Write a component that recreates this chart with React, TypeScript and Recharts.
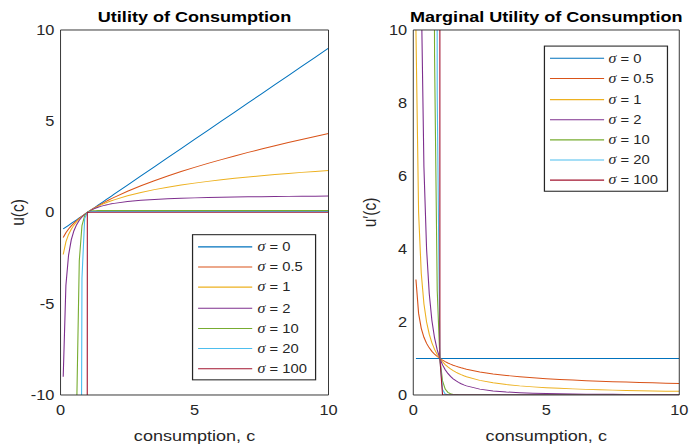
import React from 'react';
import { LineChart, Line, XAxis, YAxis, Legend } from 'recharts';

// consumption grid (x values)
const consumption = [
  0.1, 0.2, 0.3, 0.4, 0.5, 0.6, 0.7, 0.8, 0.9, 1.0, 1.1, 1.2, 1.3, 1.4, 1.5, 1.6, 1.7, 1.8, 1.9, 2.0,
  2.5, 3, 3.5, 4, 4.5, 5, 5.5, 6, 6.5, 7, 7.5, 8, 8.5, 9, 9.5, 10,
];

const sigmaLabels = ['0', '0.5', '1', '2', '10', '20', '100'];
const sigmaKeys = ['s0', 's05', 's1', 's2', 's10', 's20', 's100'];
const sigmaColors = ['#0072BD', '#D95319', '#EDB120', '#7E2F8E', '#77AC30', '#4DBEEE', '#A2142F'];

const xTicks = [0, 5, 10];
const utilityTicks = [-10, -5, 0, 5, 10];
const marginalTicks = [0, 2, 4, 6, 8, 10];

// u(c)
const utilSigma0 = [
  -0.9, -0.8, -0.7, -0.6, -0.5, -0.4, -0.3, -0.2, -0.1, 0, 0.1, 0.2, 0.3, 0.4, 0.5, 0.6, 0.7, 0.8, 0.9, 1.0,
  1.5, 2, 2.5, 3, 3.5, 4, 4.5, 5, 5.5, 6, 6.5, 7, 7.5, 8, 8.5, 9,
];
const utilSigma05 = [
  -1.368, -1.106, -0.905, -0.735, -0.586, -0.451, -0.327, -0.211, -0.103, 0, 0.098, 0.191, 0.28, 0.366, 0.449,
  0.53, 0.608, 0.683, 0.757, 0.828, 1.162, 1.464, 1.742, 2.0, 2.243, 2.472, 2.69, 2.899, 3.099, 3.292, 3.477,
  3.657, 3.831, 4.0, 4.164, 4.325,
];
const utilSigma1 = [
  -2.303, -1.609, -1.204, -0.916, -0.693, -0.511, -0.357, -0.223, -0.105, 0, 0.095, 0.182, 0.262, 0.336, 0.405,
  0.47, 0.531, 0.588, 0.642, 0.693, 0.916, 1.099, 1.253, 1.386, 1.504, 1.609, 1.705, 1.792, 1.872, 1.946, 2.015,
  2.079, 2.14, 2.197, 2.251, 2.303,
];
const utilSigma2 = [
  -9, -4, -2.333, -1.5, -1, -0.667, -0.429, -0.25, -0.111, 0, 0.091, 0.167, 0.231, 0.286, 0.333, 0.375, 0.412,
  0.444, 0.474, 0.5, 0.6, 0.667, 0.714, 0.75, 0.778, 0.8, 0.818, 0.833, 0.846, 0.857, 0.867, 0.875, 0.882, 0.889,
  0.895, 0.9,
];
const utilSigma10 = [
  null, null, null, null, null, -10.92, -2.642, -0.717, -0.176, 0, 0.064, 0.09, 0.101, 0.106, 0.108, 0.11, 0.11,
  0.111, 0.111, 0.111, 0.111, 0.111, 0.111, 0.111, 0.111, 0.111, 0.111, 0.111, 0.111, 0.111, 0.111, 0.111, 0.111,
  0.111, 0.111, 0.111,
];
const utilSigma20 = [
  null, null, null, null, null, null, -46.13, -3.599, -0.337, 0, 0.044, 0.051, 0.052, 0.053, 0.053, 0.053, 0.053,
  0.053, 0.053, 0.053, 0.053, 0.053, 0.053, 0.053, 0.053, 0.053, 0.053, 0.053, 0.053, 0.053, 0.053, 0.053, 0.053,
  0.053, 0.053, 0.053,
];
const utilSigma100 = [
  null, null, null, null, null, null, null, null, -342.4, 0, 0.0101, 0.0101, 0.0101, 0.0101, 0.0101, 0.0101,
  0.0101, 0.0101, 0.0101, 0.0101, 0.0101, 0.0101, 0.0101, 0.0101, 0.0101, 0.0101, 0.0101, 0.0101, 0.0101, 0.0101,
  0.0101, 0.0101, 0.0101, 0.0101, 0.0101, 0.0101,
];

// u'(c)
const margSigma0 = [
  1, 1, 1, 1, 1, 1, 1, 1, 1, 1, 1, 1, 1, 1, 1, 1, 1, 1, 1, 1, 1, 1, 1, 1, 1, 1, 1, 1, 1, 1, 1, 1, 1, 1, 1, 1,
];
const margSigma05 = [
  3.162, 2.236, 1.826, 1.581, 1.414, 1.291, 1.195, 1.118, 1.054, 1, 0.953, 0.913, 0.877, 0.845, 0.816, 0.791,
  0.767, 0.745, 0.725, 0.707, 0.632, 0.577, 0.535, 0.5, 0.471, 0.447, 0.426, 0.408, 0.392, 0.378, 0.365, 0.354,
  0.343, 0.333, 0.324, 0.316,
];
const margSigma1 = [
  10, 5, 3.333, 2.5, 2, 1.667, 1.429, 1.25, 1.111, 1, 0.909, 0.833, 0.769, 0.714, 0.667, 0.625, 0.588, 0.556,
  0.526, 0.5, 0.4, 0.333, 0.286, 0.25, 0.222, 0.2, 0.182, 0.167, 0.154, 0.143, 0.133, 0.125, 0.118, 0.111, 0.105,
  0.1,
];
const margSigma2 = [
  100, 25, 11.11, 6.25, 4, 2.778, 2.041, 1.563, 1.235, 1, 0.826, 0.694, 0.592, 0.51, 0.444, 0.391, 0.346, 0.309,
  0.277, 0.25, 0.16, 0.111, 0.082, 0.063, 0.049, 0.04, 0.033, 0.028, 0.024, 0.02, 0.018, 0.016, 0.014, 0.012,
  0.011, 0.01,
];
const margSigma10 = [
  null, null, null, null, null, null, 35.4, 9.313, 2.868, 1, 0.386, 0.162, 0.073, 0.035, 0.017, 0.009, 0.005,
  0.003, 0.002, 0.001, 0, 0, 0, 0, 0, 0, 0, 0, 0, 0, 0, 0, 0, 0, 0, 0,
];
const margSigma20 = [
  null, null, null, null, null, null, null, 86.7, 8.225, 1, 0.149, 0.026, 0.005, 0.001, 0, 0, 0, 0, 0, 0, 0, 0, 0,
  0, 0, 0, 0, 0, 0, 0, 0, 0, 0, 0, 0, 0,
];
const margSigma100 = [
  null, null, null, null, null, null, null, null, 37650, 1, 0, 0, 0, 0, 0, 0, 0, 0, 0, 0, 0, 0, 0, 0, 0, 0, 0, 0,
  0, 0, 0, 0, 0, 0, 0, 0,
];

const utilitySeries = [utilSigma0, utilSigma05, utilSigma1, utilSigma2, utilSigma10, utilSigma20, utilSigma100];
const marginalSeries = [margSigma0, margSigma05, margSigma1, margSigma2, margSigma10, margSigma20, margSigma100];

const toRows = (series: (number | null)[][]) =>
  consumption.map((c, i) => {
    const row: Record<string, number | null> = { c };
    series.forEach((values, k) => {
      row[sigmaKeys[k]] = values[i];
    });
    return row;
  });

const utilityRows = toRows(utilitySeries);
const marginalRows = toRows(marginalSeries);

// the figure is laid out at 560x420 and stretched to the 689x445 page, like the source image
const FIG_W = 560;
const FIG_H = 420;
const CHART_W = 280;
const PLOT_TOP = 28.3;
const X_AXIS_H = 47.2;
const AXIS = '#262626';
const FONT = '"Liberation Sans", Arial, Helvetica, sans-serif';

const YTitle = ({ viewBox, text, labelX }: any) => {
  const cy = viewBox ? viewBox.y + viewBox.height / 2 : PLOT_TOP + (FIG_H - PLOT_TOP - X_AXIS_H) / 2;
  return (
    <text
      x={labelX}
      y={cy}
      transform={`rotate(-90 ${labelX} ${cy})`}
      textAnchor="middle"
      dominantBaseline="central"
      fontSize={14.67}
      fill={AXIS}
    >
      {text}
    </text>
  );
};

const SigmaLegend = ({ payload }: any) => {
  const items = sigmaLabels
    .map((s) => (payload || []).find((p: any) => p.value === `σ = ${s}`))
    .filter(Boolean);
  return (
    <div
      style={{
        width: 101,
        height: 138,
        boxSizing: 'border-box',
        border: `0.8px solid ${AXIS}`,
        background: '#fff',
        paddingTop: 1.5,
      }}
    >
      {items.map((item: any) => (
        <div key={item.value} style={{ display: 'flex', alignItems: 'center', height: 19.2 }}>
          <svg width={52} height={6} style={{ flex: 'none' }}>
            <line x1={4} y1={3} x2={48} y2={3} stroke={item.color} strokeWidth={1} />
          </svg>
          <span style={{ fontSize: 12, color: AXIS, whiteSpace: 'nowrap', lineHeight: '14px' }}>
            <span style={{ fontFamily: '"Liberation Serif", "Times New Roman", serif', fontStyle: 'italic', fontSize: 13 }}>
              σ
            </span>
            {item.value.slice(1)}
          </span>
        </div>
      ))}
    </div>
  );
};

interface PanelProps {
  data: Record<string, number | null>[];
  title: string;
  yLabel: string;
  yDomain: [number, number];
  yTicks: number[];
  left: number;
  yAxisWidth: number;
  marginRight: number;
  yLabelX: number;
  legendLeft: number;
  legendTop: number;
}

function Panel(p: PanelProps) {
  const plotW = CHART_W - p.yAxisWidth - p.marginRight;
  const center = p.yAxisWidth + plotW / 2;
  const tickStyle = { fill: AXIS, fontSize: 13.33 };
  return (
    <div style={{ position: 'absolute', left: p.left, top: 0, width: CHART_W, height: FIG_H }}>
      <div
        style={{
          position: 'absolute',
          left: center - 150,
          width: 300,
          top: 7.8,
          textAlign: 'center',
          fontSize: 14.67,
          fontWeight: 'bold',
          lineHeight: '17px',
          whiteSpace: 'nowrap',
          color: '#000',
        }}
      >
        {p.title}
      </div>
      <LineChart
        width={CHART_W}
        height={FIG_H}
        data={p.data}
        margin={{ top: PLOT_TOP, right: p.marginRight, bottom: 0, left: 0 }}
      >
        <XAxis
          dataKey="c"
          type="number"
          domain={[0, 10]}
          ticks={xTicks}
          interval={0}
          allowDataOverflow
          height={X_AXIS_H}
          tickSize={0}
          tickMargin={9.7}
          tickLine={false}
          axisLine={{ stroke: AXIS, strokeWidth: 0.8 }}
          tick={tickStyle}
          label={{ value: 'consumption, c', position: 'insideBottom', offset: 4.2, fontSize: 14.67, fill: AXIS }}
        />
        <YAxis
          type="number"
          domain={p.yDomain}
          ticks={p.yTicks}
          interval={0}
          allowDataOverflow
          width={p.yAxisWidth}
          tickSize={0}
          tickMargin={5}
          tickLine={false}
          axisLine={{ stroke: AXIS, strokeWidth: 0.8 }}
          tick={tickStyle}
          label={<YTitle text={p.yLabel} labelX={p.yLabelX} />}
        />
        {/* inward tick marks and the rest of the box */}
        <XAxis
          xAxisId="top"
          orientation="top"
          mirror
          type="number"
          domain={[0, 10]}
          ticks={xTicks}
          interval={0}
          allowDataOverflow
          tick={false}
          tickSize={3.5}
          tickLine={{ stroke: AXIS, strokeWidth: 0.8 }}
          axisLine={{ stroke: AXIS, strokeWidth: 0.8 }}
        />
        <XAxis
          xAxisId="in"
          orientation="bottom"
          mirror
          type="number"
          domain={[0, 10]}
          ticks={xTicks}
          interval={0}
          allowDataOverflow
          tick={false}
          tickSize={3.5}
          tickLine={{ stroke: AXIS, strokeWidth: 0.8 }}
          axisLine={false}
        />
        <YAxis
          yAxisId="in"
          orientation="left"
          mirror
          type="number"
          domain={p.yDomain}
          ticks={p.yTicks}
          interval={0}
          allowDataOverflow
          tick={false}
          tickSize={3.5}
          tickLine={{ stroke: AXIS, strokeWidth: 0.8 }}
          axisLine={false}
        />
        <YAxis
          yAxisId="right"
          orientation="right"
          mirror
          type="number"
          domain={p.yDomain}
          ticks={p.yTicks}
          interval={0}
          allowDataOverflow
          tick={false}
          tickSize={3.5}
          tickLine={{ stroke: AXIS, strokeWidth: 0.8 }}
          axisLine={{ stroke: AXIS, strokeWidth: 0.8 }}
        />
        {sigmaKeys.map((key, k) => (
          <Line
            key={key}
            dataKey={key}
            name={`σ = ${sigmaLabels[k]}`}
            type="linear"
            stroke={sigmaColors[k]}
            strokeWidth={0.9}
            dot={false}
            activeDot={false}
            isAnimationActive={false}
          />
        ))}
        <Legend
          layout="horizontal"
          verticalAlign="middle"
          align="center"
          wrapperStyle={{ left: p.legendLeft, top: p.legendTop, width: 'auto', height: 'auto' }}
          content={(props: any) => <SigmaLegend {...props} />}
        />
      </LineChart>
    </div>
  );
}

export default function App() {
  return (
    <div style={{ position: 'absolute', left: 0, top: 0, width: 689, height: 445, overflow: 'hidden', background: '#fff' }}>
      <div
        style={{
          position: 'absolute',
          left: 0,
          top: 0,
          width: FIG_W,
          height: FIG_H,
          transform: `scale(${689 / FIG_W}, ${445 / FIG_H})`,
          transformOrigin: '0 0',
          fontFamily: FONT,
        }}
      >
        <Panel
          data={utilityRows}
          title="Utility of Consumption"
          yLabel="u(c)"
          yDomain={[-10, 10]}
          yTicks={utilityTicks}
          left={0}
          yAxisWidth={49.2}
          marginRight={13}
          yLabelX={14.4}
          legendLeft={156.3}
          legendTop={220.9}
        />
        <Panel
          data={marginalRows}
          title="Marginal Utility of Consumption"
          yLabel="u′(c)"
          yDomain={[0, 10]}
          yTicks={marginalTicks}
          left={CHART_W}
          yAxisWidth={55.9}
          marginRight={7.9}
          yLabelX={20.7}
          legendLeft={161.6}
          legendTop={43.1}
        />
      </div>
    </div>
  );
}
